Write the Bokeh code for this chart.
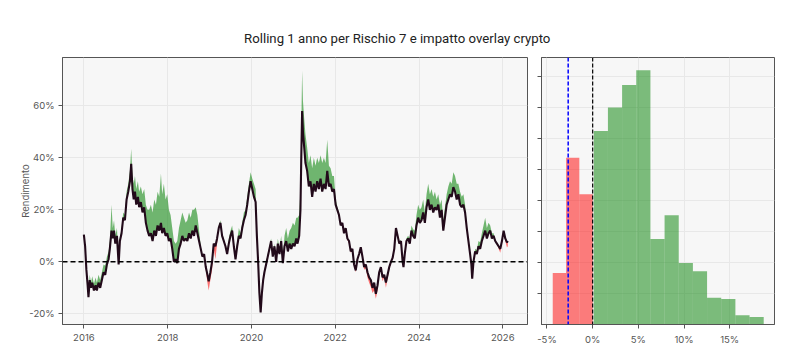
import numpy as np
from bokeh.plotting import figure
from bokeh.layouts import column, row
from bokeh.models import Range1d, FixedTicker, PrintfTickFormatter, Span, ColumnDataSource
from bokeh.core.properties import value
from bokeh.embed import file_html
from bokeh.resources import INLINE

TITLE = "Rolling 1 anno per  Rischio 7  e impatto overlay crypto"
Y_LABEL = "Rendimento"

# rolling 1-year return (%), decimal year
years = [2016.00, 2016.03, 2016.06, 2016.09, 2016.11, 2016.14, 2016.17, 2016.20, 2016.24, 2016.28,
         2016.31, 2016.35, 2016.39, 2016.43, 2016.47, 2016.51, 2016.55, 2016.59, 2016.62, 2016.66,
         2016.69, 2016.72, 2016.75, 2016.79, 2016.83, 2016.86, 2016.90, 2016.94, 2016.98, 2017.02,
         2017.06, 2017.10, 2017.13, 2017.16, 2017.19, 2017.22, 2017.25, 2017.29, 2017.32, 2017.36,
         2017.40, 2017.44, 2017.48, 2017.52, 2017.56, 2017.60, 2017.64, 2017.68, 2017.72, 2017.76,
         2017.80, 2017.84, 2017.87, 2017.91, 2017.95, 2017.99, 2018.03, 2018.07, 2018.11, 2018.15,
         2018.19, 2018.23, 2018.27, 2018.31, 2018.35, 2018.39, 2018.43, 2018.47, 2018.51, 2018.55,
         2018.59, 2018.63, 2018.67, 2018.71, 2018.75, 2018.79, 2018.83, 2018.87, 2018.91, 2018.95,
         2018.98, 2019.02, 2019.06, 2019.10, 2019.14, 2019.18, 2019.22, 2019.26, 2019.30, 2019.34,
         2019.38, 2019.42, 2019.46, 2019.50, 2019.54, 2019.58, 2019.62, 2019.66, 2019.70, 2019.74,
         2019.78, 2019.82, 2019.86, 2019.90, 2019.94, 2019.98, 2020.02, 2020.06, 2020.10, 2020.13,
         2020.16, 2020.19, 2020.22, 2020.25, 2020.28, 2020.31, 2020.35, 2020.39, 2020.43, 2020.47,
         2020.51, 2020.55, 2020.59, 2020.63, 2020.67, 2020.71, 2020.75, 2020.79, 2020.83, 2020.87,
         2020.91, 2020.95, 2020.99, 2021.03, 2021.07, 2021.10, 2021.14, 2021.17, 2021.19, 2021.21,
         2021.23, 2021.26, 2021.29, 2021.33, 2021.37, 2021.41, 2021.45, 2021.49, 2021.53, 2021.57,
         2021.61, 2021.65, 2021.69, 2021.73, 2021.77, 2021.81, 2021.85, 2021.89, 2021.93, 2021.97,
         2022.01, 2022.05, 2022.09, 2022.13, 2022.17, 2022.21, 2022.25, 2022.29, 2022.33, 2022.37,
         2022.41, 2022.45, 2022.49, 2022.53, 2022.57, 2022.61, 2022.65, 2022.69, 2022.73, 2022.77,
         2022.81, 2022.85, 2022.89, 2022.93, 2022.97, 2023.01, 2023.05, 2023.09, 2023.13, 2023.17,
         2023.21, 2023.25, 2023.29, 2023.33, 2023.37, 2023.41, 2023.45, 2023.49, 2023.53, 2023.57,
         2023.61, 2023.63, 2023.66, 2023.70, 2023.74, 2023.78, 2023.82, 2023.86, 2023.90, 2023.94,
         2023.98, 2024.02, 2024.06, 2024.10, 2024.14, 2024.18, 2024.22, 2024.26, 2024.30, 2024.34,
         2024.38, 2024.42, 2024.46, 2024.50, 2024.54, 2024.58, 2024.62, 2024.66, 2024.70, 2024.74,
         2024.78, 2024.82, 2024.86, 2024.90, 2024.94, 2024.98, 2025.02, 2025.06, 2025.10, 2025.14,
         2025.18, 2025.22, 2025.25, 2025.27, 2025.30, 2025.34, 2025.38, 2025.42, 2025.46, 2025.50,
         2025.54, 2025.58, 2025.62, 2025.66, 2025.70, 2025.74, 2025.78, 2025.82, 2025.86, 2025.90,
         2025.94, 2025.98, 2026.02, 2026.06, 2026.10, 2026.12]

base = [10.5, 6, -3, -9, -13.6, -7, -10, -8, -11, -9,
        -11, -8, -10, -7, -4, -5, -1, 1, 5, 12,
        9, 12, 7, 10, -1, 8, 11, 17, 16, 24,
        27, 31, 37.7, 28, 24, 27, 22, 25, 21, 23,
        19, 21, 15, 12, 10, 11, 8, 12, 10, 14,
        12, 15, 11, 13, 10, 11, 8, 9, 5, 0,
        1, -0.5, 5, 7, 10, 8, 9, 8, 11, 9,
        12, 10, 14, 11, 8, 5, 2, 3, -2, -5,
        -7.5, -4, 0, 7, 6, 9, 13, 15, 10, 8,
        6, 3, 7, 10, 12, 6, 1, 6, 10, 9,
        13, 16, 18, 22, 27, 31, 28, 25, 23, 10,
        0, -12, -19.5, -12, -7, -4, -1, 2, 5, 8,
        2, 6, 0, 7, 3, 8, -0.5, 6, 8, 4,
        7, 5, 7, 6, 9, 7, 10, 20, 40, 58,
        50, 44, 38, 35, 29, 31, 25, 30, 27, 31,
        28, 32, 27, 30, 28, 35, 29, 30, 27, 28,
        22, 20, 18, 14, 15, 11, 13, 9, 8, 4,
        5, -1, -3.3, 1, 3, 5.6, 2, -2, -1, -4,
        -6, -7, -10, -8, -12.3, -9, -4, -2, -6, -5,
        -8, -5, -2, 0, 1.5, 5, 13, 10, 7, 8,
        0, -2, 3, 8, 9, 7, 12, 10, 9, 14,
        17, 15, 16, 19, 15, 21, 24, 20, 22, 19,
        21, 20, 22, 17, 20, 12, 17, 22, 24, 26,
        25, 28.7, 27, 24, 26, 22, 21, 22, 19, 13,
        8, 3, -1, -6.5, 0, 4, 3, 6, 5, 8,
        10, 12, 9, 11, 12, 9, 10, 8, 7, 6,
        5, 8, 12, 9, 7.5, 8]

overlay = [11, 6.5, -2, -8, -12, -5, -8, -5.5, -8.5, -6,
           -8, -5, -7, -4, -1, -1.5, 2, 4, 8, 22,
           13, 16, 10, 13, 0, 9, 13, 19, 18, 27,
           30, 35, 43.5, 33, 30, 33, 28, 31, 27, 29,
           26, 28, 22, 20, 20, 22, 19, 24, 22, 27,
           25, 34, 26, 30, 24, 26, 20, 18, 13, 8,
           7, 8, 13, 16, 19, 17, 15, 16, 19, 17,
           20, 20, 21, 18, 12, 6, 2.5, 3, -3, -8,
           -11, -7, -3, 5, 1, 7, 14, 16, 11, 9,
           6.5, 4, 9, 12, 14, 8, 2, 8, 13, 11,
           15, 19, 20, 25, 30, 34.5, 32, 30, 28, 13,
           1, -12, -19, -11, -6, -3, 0, 3, 6, 9,
           3, 7, 1, 9, 5, 10, 2, 10, 13, 9,
           12, 13, 15, 14, 17, 17, 18, 28, 52, 73.6,
           62, 55, 49, 44, 38, 41, 36, 40, 37, 40,
           38, 41, 38, 40, 38, 47, 37, 36, 33, 33,
           24, 21, 19, 14.5, 15, 11, 12.5, 8.5, 7, 3.5,
           4.5, -1.5, -4, 0.5, 2.5, 5, 1, -3, -2.5, -6,
           -8, -9.7, -12, -11, -14.2, -11, -5, -3, -7.5, -6,
           -10, -6.5, -3, -0.5, 1, 5, 13, 10.5, 7.5, 8.5,
           0.5, -1.5, 3.5, 9, 10, 9, 14, 12.5, 12, 18,
           22, 20, 21, 24, 19, 26, 30, 26, 28, 25,
           27, 24, 26, 22, 24, 16, 21, 26, 29, 31,
           30, 34.5, 33, 30, 30, 27, 25, 26, 22, 14.5,
           8.5, 3, -1, -6.5, 0.5, 5, 4.5, 8, 7.5, 11,
           14, 17, 13, 15, 14, 11, 11, 8.5, 7, 5,
           3.5, 7, 11, 8, 5.5, 6]

# histogram of overlay impact (percentage points)
red_edges = [-4.37, -2.91, -1.46, 0.0]
red_counts = [83, 269, 210]
green_edges = [0.12, 1.67, 3.22, 4.77, 6.32, 7.87, 9.42, 10.97, 12.52, 14.07, 15.62, 17.17, 18.72]
green_counts = [312, 350, 386, 410, 138, 176, 99, 86, 43, 41, 15, 12]
var_5 = -2.68

FONT = "Inter"
TXT = "#555555"
BG = "#f7f7f7"
GRID = "#e8e8e8"
FRAME = "#555555"


def style(p):
    p.background_fill_color = BG
    p.border_fill_color = "white"
    p.outline_line_color = FRAME
    p.outline_line_width = 1
    p.grid.grid_line_color = GRID
    p.grid.grid_line_width = 1
    for ax in p.axis:
        ax.axis_line_color = FRAME
        ax.major_tick_line_color = FRAME
        ax.major_tick_out = 4
        ax.major_tick_in = 0
        ax.minor_tick_out = 0
        ax.minor_tick_in = 0
        ax.major_label_text_font = FONT
        ax.major_label_text_font_size = "9.5px"
        ax.major_label_text_color = TXT
        ax.axis_label_text_font = FONT
        ax.axis_label_text_font_size = "9.5px"
        ax.axis_label_text_font_style = "normal"
        ax.axis_label_text_color = TXT


# title strip
pt = figure(width=800, height=48, output_backend="svg", toolbar_location=None,
            x_range=Range1d(0, 1), y_range=Range1d(0, 48),
            x_axis_location=None, y_axis_location=None, min_border=0)
pt.outline_line_color = None
pt.grid.visible = False
pt.background_fill_color = "white"
pt.border_fill_color = "white"
pt.text(x=[0.5], y=[10], text=[TITLE], text_align="center", text_baseline="middle",
        text_font=value("Roboto"), text_font_size="13.2px", text_color="#222222")

# time series panel
ts = ColumnDataSource(dict(
    x=years, base=base, ov=overlay,
    hi=np.maximum(overlay, base), lo=np.minimum(overlay, base)))

p1 = figure(width=534, height=308, output_backend="svg", toolbar_location=None,
            x_range=Range1d(2015.49, 2026.59), y_range=Range1d(-24.1, 78.6),
            min_border_left=62, min_border_right=7, min_border_top=9, min_border_bottom=32)
style(p1)
p1.varea(x="x", y1="base", y2="hi", source=ts, fill_color="green", fill_alpha=0.55)
p1.varea(x="x", y1="lo", y2="base", source=ts, fill_color="red", fill_alpha=0.55)
p1.add_layout(Span(location=0, dimension="width", line_color="black",
                   line_dash="5 3", line_width=1.5))
p1.line(x="x", y="base", source=ts, line_color="#220a1a", line_width=2.1)
p1.xaxis.ticker = FixedTicker(ticks=[2016, 2018, 2020, 2022, 2024, 2026])
p1.xaxis.formatter = PrintfTickFormatter(format="%d")
p1.yaxis.ticker = FixedTicker(ticks=[-20, 0, 20, 40, 60])
p1.yaxis.formatter = PrintfTickFormatter(format="%d%%")
p1.yaxis.axis_label = Y_LABEL
p1.yaxis.major_label_standoff = 4
p1.yaxis.axis_label_standoff = -5

# histogram panel
p2 = figure(width=266, height=308, output_backend="svg", toolbar_location=None,
            x_range=Range1d(-5.6, 19.9), y_range=Range1d(0, 430.5),
            min_border_left=7, min_border_right=26, min_border_top=9, min_border_bottom=32)
style(p2)
p2.quad(left=red_edges[:-1], right=red_edges[1:], bottom=0, top=red_counts,
        fill_color="red", fill_alpha=0.5, line_color=None)
p2.quad(left=green_edges[:-1], right=green_edges[1:], bottom=0, top=green_counts,
        fill_color="green", fill_alpha=0.5, line_color=None)
p2.add_layout(Span(location=var_5, dimension="height", line_color="blue",
                   line_dash="4 2", line_width=1.5))
p2.add_layout(Span(location=0, dimension="height", line_color="black",
                   line_dash="4 2", line_width=1.2))
p2.xaxis.ticker = FixedTicker(ticks=[-5, 0, 5, 10, 15])
p2.xaxis.formatter = PrintfTickFormatter(format="%d%%")
ticks_y = [50, 100, 150, 200, 250, 300, 350, 400]
p2.yaxis.ticker = FixedTicker(ticks=ticks_y)
p2.yaxis.major_label_overrides = {t: "" for t in ticks_y}
p2.yaxis.major_label_standoff = 0

layout = column(pt, row(p1, p2))
open("out.html", "w").write(file_html(layout, INLINE))
